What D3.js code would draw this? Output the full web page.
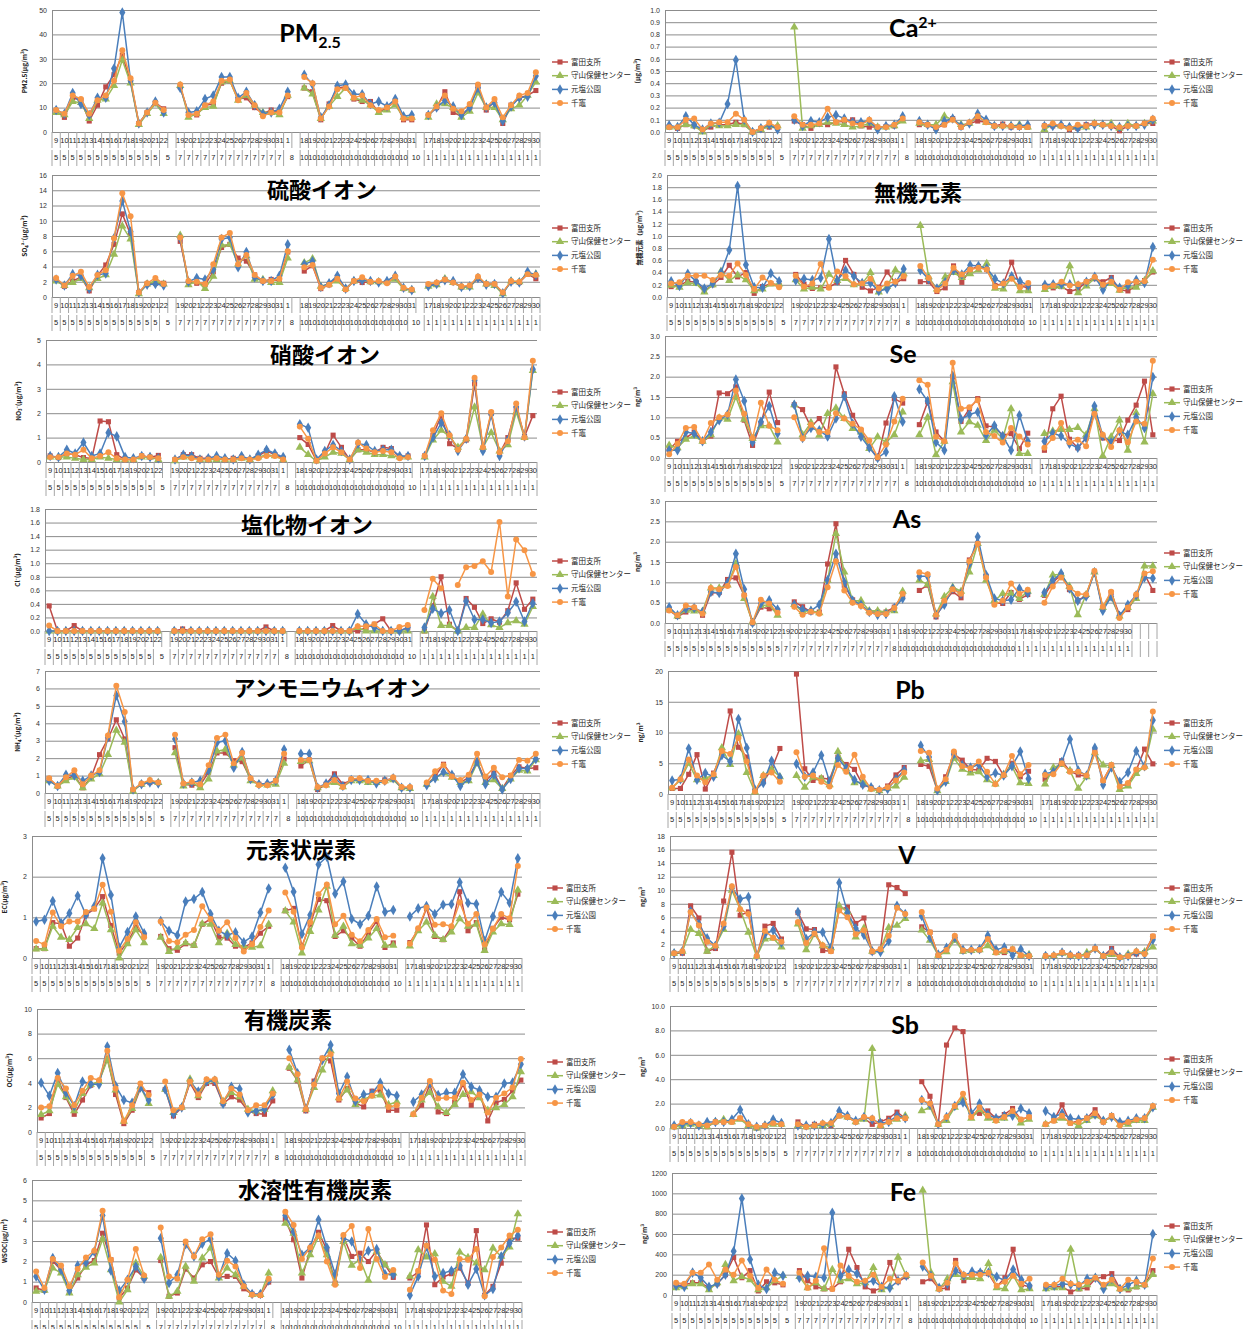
<!DOCTYPE html>
<html>
<head>
<meta charset="utf-8">
<script src="https://cdn.jsdelivr.net/npm/d3@7"></script>
<style>
  body { margin: 0; background: #fff; }
  svg { display: block; }
</style>
</head>
<body>
<svg id="chart" width="1248" height="1329"></svg>
<script>
// station series, in Excel drawing order
const seriesNames = ['富田支所', '守山保健センター', '元塩公園', '千竈'];
const seriesColors = ['#BE4B48', '#9BBB59', '#4A7EBB', '#F79646'];

// category axis (day / month), one blank category between the four sampling periods
const dayLabels = ['9','10','11','12','13','14','15','16','17','18','19','20','21','22','',
  '19','20','21','22','23','24','25','26','27','28','29','30','31','1','',
  '18','19','20','21','22','23','24','25','26','27','28','29','30','31','',
  '17','18','19','20','21','22','23','24','25','26','27','28','29','30'];
const monthLabels = ['5','5','5','5','5','5','5','5','5','5','5','5','5','5','',
  '7','7','7','7','7','7','7','7','7','7','7','7','7','8','',
  '10','10','10','10','10','10','10','10','10','10','10','10','10','10','',
  '1','1','1','1','1','1','1','1','1','1','1','1','1','1'];
// the As chart has its labels packed without the gaps
const asDayLabels = ['9','10','11','12','13','14','15','16','17','18','19','20','21','22',
  '19','20','21','22','23','24','25','26','27','28','29','30','31','1',
  '18','19','20','21','22','23','24','25','26','27','28','29','30','31',
  '17','18','19','20','21','22','23','24','25','26','27','28','29','30','','',''];
const asMonthLabels = ['5','5','5','5','5','5','5','5','5','5','5','5','5','5',
  '7','7','7','7','7','7','7','7','7','7','7','7','7','8',
  '10','10','10','10','10','10','10','10','10','10','10','10','10','10',
  '1','1','1','1','1','1','1','1','1','1','1','1','1','1','','',''];

// values: 56 per station (May 9-22, Jul 19-Aug 1, Oct 18-31, Jan 17-30)
const pm25 = [
  [8.5,6,14,13,4.5,11,18.5,23.5,31.5,20.5,3.5,8,12,9.5, 18.5,7.5,7,11,11.5,20,21,13.5,14,10,7.5,9,8,14.5, 18,16.5,5,11.5,18,18.5,13.5,12.5,12.5,8,10,12.5,5,5, 7,10,16.5,8,6.5,10,19,9,12.5,3.5,11,14,15,17],
  [8,7,12.5,12,5.5,13,13.5,19,29.5,20,3,7.5,11.5,7.5, 19,6,7.5,10,10.5,20.5,21,13,15,11,8,8,7,15, 18,15.5,5.5,10.5,14.5,18,14,13,11,8,9,11,6,6, 6,11.5,11.5,10,6,8.5,16,10,10,5,9.5,11,15,20.5],
  [9,7.5,16,11.5,7,14,14,26,49,21,3.5,8,12.5,8, 18,8,8.5,13.5,15,22.5,22.5,14,16.5,11,7.5,8,9.5,16.5, 23.5,19.5,6,11,19,19.5,15.5,15.5,11.5,12.5,10.5,13.5,6.5,7, 7,10,13,10.5,7,10,18,10,12,4.5,10.5,14,14.5,23],
  [9,7.5,15,13.5,7.5,13,15,21,33.5,22,3.5,8,12,9, 19.5,7,7.5,11,12.5,21,21.5,13,16,11,6.5,8,8,15, 22.5,20,5.5,10.5,17.5,18,14,15,11,9,10,12.5,5.5,5.5, 7,10.5,15,9.5,8.5,11.5,19.5,10,13.5,6,11,15,16,24.5]
];
const ca = [
  [.04,.03,.06,.05,.01,.04,.06,.06,.08,.06,0,.03,.04,.04, .09,.06,.03,.07,.06,.08,.09,.1,.05,.04,.04,.045,.05,.1, .06,.06,.03,.06,.11,.04,.07,.09,.08,.05,.065,.04,.04,.04, .05,.05,.05,.02,.03,.06,.07,.06,.05,.01,.05,.05,.07,.07],
  [.04,.04,.06,.05,0,.06,.05,.05,.06,.06,0,.02,.05,.05, .86,.03,.05,.06,.08,.07,.06,.04,.05,.07,.04,.04,.05,.09, .07,.06,.06,.13,.1,.06,.07,.13,.08,.05,.05,.05,.06,.04, .02,.06,.05,.04,.04,.04,.07,.06,.07,.03,.07,.05,.07,.09],
  [.055,.04,.13,.06,.02,.07,.075,.23,.59,.1,0,.03,.06,.02, .1,.05,.09,.08,.12,.14,.11,.08,.08,.09,.02,.05,.06,.13, .09,.06,.02,.09,.11,.05,.07,.15,.1,.05,.05,.05,.05,.06, .05,.05,.06,.04,.03,.05,.06,.06,.05,.04,.05,.05,.06,.1],
  [.04,.04,.1,.11,.02,.07,.08,.08,.15,.1,0,.03,.075,.04, .13,.06,.06,.07,.19,.08,.1,.07,.06,.1,.04,.04,.06,.11, .08,.06,.04,.06,.1,.04,.08,.13,.08,.05,.05,.05,.04,.04, .05,.07,.05,.03,.06,.05,.07,.06,.05,.04,.05,.05,.07,.11]
];
const so4 = [
  [2.3,1.4,2.1,2.6,.8,2.8,4.2,6.9,10.9,8.2,.6,1.7,1.8,1.8, 7.3,2,1.8,1.6,3.3,6.5,6.9,5.1,4.7,2.9,2.1,2.3,2.1,5.9, 3.4,4.1,1.1,1.6,2.6,1,2.1,1.9,2,2,1.9,2.5,1.1,.9, 1.6,1.7,2.3,1.9,1.3,1.4,2.4,1.7,1.7,.6,2,1.9,3,2.4],
  [2.1,1.5,1.9,2.4,1.2,2.4,2.9,5.6,9.3,7.6,.4,1.7,2.1,1.7, 8.1,1.6,2.1,1.1,2.7,6.8,6.9,4.3,5.4,2.3,2.3,1.9,1.9,5.1, 4.5,5,1.4,1.7,2.1,1.1,2.1,2.3,2,2,2,2.3,1.1,.9, 1.4,1.6,2.4,1.9,1.3,1.3,2.5,1.7,1.5,.4,2.1,2,3.1,3],
  [2.3,1.5,3,2.8,1.1,2.9,3.1,7.7,12.6,8.6,.6,1.6,1.7,1.5, 7.7,2,2.5,2.3,3.6,7.6,7.8,3.9,5.9,2.6,2.1,2.1,2.8,6.9, 4.3,4.7,1.3,1.8,2.8,1.1,2.1,2.2,2.1,1.9,2.1,2.8,1.2,.9, 1.4,1.7,2.2,2.1,1.3,1.4,2.5,1.6,1.7,.5,2,1.9,3.3,2.9],
  [2.5,1.5,2.8,3.3,1.3,2.9,3.5,7.7,13.6,10.6,.6,1.8,2.5,1.7, 7.8,2.1,2,1.7,4.3,7.8,8.4,4.3,5.5,2.9,2.1,2.1,2.4,6, 3.9,4.2,1.2,1.6,2.4,1,2.1,2.6,2,2.1,1.8,2.7,1.2,1, 1.7,1.9,2.3,1.9,1.4,1.5,2.7,1.7,1.7,.6,2.1,2,3,2.9]
];
const inorganic = [
  [.17,.19,.26,.24,.1,.2,.32,.52,.33,.4,.06,.17,.22,.19, .37,.21,.14,.15,.16,.24,.6,.37,.16,.1,.16,.41,.23,.3, .25,.25,.09,.15,.51,.24,.45,.5,.45,.19,.22,.57,.18,.15, .18,.15,.17,.09,.13,.25,.3,.25,.32,.12,.1,.18,.27,.41],
  [.19,.16,.23,.22,.08,.2,.42,.27,.36,.28,.1,.13,.21,.21, .28,.13,.16,.13,.37,.27,.3,.2,.22,.4,.08,.17,.44,.38, 1.17,.33,.13,.33,.4,.32,.38,.44,.55,.14,.13,.32,.1,.1, .12,.17,.17,.51,.07,.18,.31,.18,.22,.11,.17,.16,.27,.43],
  [.26,.18,.38,.26,.14,.22,.4,.77,1.82,.53,.16,.15,.39,.26, .27,.3,.28,.31,.95,.27,.44,.34,.23,.23,.1,.13,.23,.46, .44,.29,.14,.24,.44,.37,.52,.51,.47,.3,.22,.34,.26,.19, .2,.21,.21,.21,.19,.25,.33,.12,.28,.15,.19,.28,.23,.82],
  [.22,.24,.35,.35,.35,.28,.36,.35,.55,.36,.13,.32,.23,.16, .35,.17,.22,.54,.15,.42,.34,.21,.22,.3,.14,.22,.25,.34, .51,.31,.11,.22,.48,.37,.45,.48,.45,.17,.22,.3,.16,.23, .16,.19,.25,.19,.21,.25,.33,.2,.25,.12,.24,.25,.26,.61]
];
const no3 = [
  [.25,.18,.35,.3,.18,.14,1.68,1.65,.3,.1,.1,.25,.2,.27, .1,.3,.3,.15,.15,.15,.1,.15,.2,.1,.25,.45,.3,.15, 1,.72,.05,.35,1.1,.6,.1,.5,.5,.4,.6,.55,.2,.25, .25,1.1,1.9,.75,.55,.9,3.2,.55,2,.35,1,2.2,1.05,1.9],
  [.2,.2,.2,.15,.1,.1,.2,.15,.1,.1,.1,.2,.2,.1, .05,.2,.2,.1,.1,.1,.1,.1,.15,.1,.2,.3,.25,.1, .6,.3,.05,.2,.4,.35,.1,.5,.4,.3,.3,.25,.2,.2, .2,.9,1.3,1.05,.6,.95,2.25,.6,1.2,.45,.7,2.05,1,3.75],
  [.25,.2,.5,.35,.8,.25,.35,1.2,1.05,.2,.15,.25,.2,.15, .1,.3,.25,.1,.15,.25,.15,.1,.25,.1,.3,.5,.35,.2, 1.55,1.4,.1,.45,.7,.45,.1,.75,.7,.45,.5,.5,.25,.25, .25,1,1.6,1.1,.45,.95,3.35,.45,1.95,.25,.9,2.25,1.05,3.8],
  [.2,.2,.35,.3,.5,.15,.25,.4,.15,.1,.1,.25,.2,.15, .1,.2,.15,.1,.1,.15,.1,.1,.15,.1,.15,.25,.25,.1, 1.45,.95,.05,.35,.6,.4,.1,.8,.55,.4,.45,.4,.15,.2, .25,1.3,2,1.1,.5,.95,3.45,.6,2.05,.4,.85,2.4,1,4.15]
];
const se = [
  [.21,.41,.49,.64,.41,.54,1.6,1.58,1.75,.93,.31,.84,1.62,.87, 1.31,1.19,.76,.97,.6,2.24,1.58,1.05,.68,.27,0,.86,1.46,1.35, .82,1.38,.64,.41,1.99,.9,1.21,1.46,.79,.76,.56,.6,.23,.61, .19,1.21,1.52,.46,.25,.49,1.09,.49,.43,.43,.93,1.3,1.89,.57],
  [.31,.25,.46,.54,.41,.57,.98,.95,1.5,.95,.48,.79,.79,.39, 1.31,.57,.87,.56,1.09,1.23,.97,.72,.64,.23,.52,.39,.57,1.13, .57,1,.08,.41,1.87,.64,.89,.8,.43,.68,.48,1.21,.11,.11, .6,.66,.7,.7,.75,.57,1.21,.05,.52,.93,.19,1.11,.39,1.58],
  [.19,.19,.64,.6,.41,.64,.93,1.07,1.93,1.4,.39,.89,1.28,.6, 1.31,.49,.74,.68,.53,.97,1.52,.84,.52,.25,0,.15,1.52,.89, 1.69,1.4,.39,.19,2.02,.95,1.07,1.13,.56,.8,.54,.19,1.05,.41, .41,.61,.54,.35,.25,.49,1.28,.54,.39,.66,.57,1,.74,1.99],
  [.09,.35,.74,.76,.41,.86,1,1.07,1.66,1.09,.49,1.36,.79,.68, 1,.48,.82,.64,.64,1.1,.97,.84,.7,.43,.02,.33,.9,1.46, 1.91,1.8,.52,.41,2.34,1.21,1.25,1.42,.64,.54,.38,.74,.53,.33, .25,.49,.86,.39,.45,.29,1.09,.57,.27,.68,.39,.9,.84,2.39]
];
const cl = [
  [.37,0,0,.08,0,0,0,0,0,0,0,0,0,0, 0,.03,0,0,0,0,0,0,0,0,0,.06,0,0, 0,0,0,0,.08,0,0,0,.05,.1,.18,0,0,.05, 0,.37,.8,.1,0,.48,.35,.11,.18,.13,.3,.71,.32,.47],
  [0,0,0,0,0,0,0,0,0,0,0,0,0,0, 0,0,0,0,0,0,0,0,0,0,0,0,0,0, 0,0,0,0,0,0,0,.05,0,0,0,0,0,0, 0,.51,.08,.08,0,.05,.05,.25,.09,.05,.12,.15,.1,.36],
  [0,0,0,0,0,0,0,0,0,0,0,0,0,0, 0,0,0,0,0,0,0,0,0,0,0,0,0,0, 0,0,0,0,0,0,0,.25,.1,.05,0,0,0,.05, .05,.33,.26,.31,0,.44,.17,.17,.12,.14,.27,.43,.14,.41],
  [.08,0,0,0,0,0,0,0,0,0,0,0,0,0, 0,0,0,0,0,0,0,0,0,0,0,0,0,0, 0,0,0,0,0,0,0,.07,.07,.1,0,0,.06,.09, .31,.77,.63,null,.68,.94,.96,1.03,.87,1.61,.51,1.35,1.19,.84]
];
const as = [
  [.31,.16,.27,.37,.19,.74,.75,1.07,1.11,.68,0,.39,.35,.31, .52,.4,.27,.27,1.45,2.44,.93,.57,.45,.27,.27,.27,.39,.68, .8,.93,.15,.52,.77,.62,1.55,1.95,1.15,.5,.48,.75,.58,.7, .68,1,1.18,.82,.55,.68,1.27,.35,.75,.2,.33,.65,1.2,.8],
  [.34,.17,.31,.29,.29,.86,.86,.93,1.46,.6,.02,.43,.45,.19, .45,.28,.3,.25,1.05,2.2,1.25,.55,.55,.3,.3,.27,.3,.78, 1.05,.95,.22,.65,.88,.78,1.25,1.95,1.05,.55,.72,.72,.6,.78, .7,1.18,1.2,.9,.2,.7,1.25,.38,.62,.17,.38,.6,1.4,1.4],
  [.39,.19,.35,.37,.27,.76,.74,.99,1.7,.83,0,.48,.56,.33, .45,.33,.3,.45,1.05,1.7,1,.55,.45,.27,.2,.22,.37,.6, 1.15,1.15,.2,.45,.85,.72,1.45,2.12,1.18,.6,.55,.57,.85,.73, .75,1.05,1.22,.85,.55,.65,1.25,.3,.65,.18,.45,.68,1.12,1.1],
  [.31,.19,.43,.39,.23,.86,.83,.91,1.38,.68,.02,.57,.48,.25, .4,.2,.28,.23,.88,1.52,.8,.5,.42,.25,.22,.22,.37,.72, 1.25,1.2,.2,.55,.83,.72,1.52,1.95,1.12,.45,.55,.97,.72,.82, .5,.9,1.12,.87,.72,.7,1.28,.4,.77,.12,.38,.7,1.22,1.27]
];
const nh4 = [
  [.8,.4,.8,1,.3,.9,2.2,3.1,4.2,3.1,.2,.5,.6,.6, 2.6,.5,.45,.45,1.2,2.3,2.3,1.85,1.8,.8,.5,.5,.7,1.95, 1.55,1.9,.2,.5,1.1,.5,.75,.75,.7,.65,.75,.8,.3,.3, .5,.95,1.65,1,.6,.9,1.8,.7,1.15,.25,1,1.5,1.4,1.45],
  [.7,.4,.7,.9,.3,.8,1.1,2.2,3.6,2.9,.1,.5,.7,.6, 2.3,.4,.6,.3,.8,2.4,2.5,1.6,2,.7,.5,.45,.5,1.7, 1.8,1.85,.3,.45,.6,.35,.7,.7,.6,.6,.7,.75,.3,.25, .5,.85,1.15,.9,.6,.7,1.7,.6,.75,.25,.8,1.3,1.25,1.9],
  [.7,.4,1.05,1,.7,1,1.2,3.2,5.6,4.1,.2,.5,.6,.55, 3.1,.55,.6,.7,1.3,2.9,3,1.45,2.35,.8,.5,.55,.7,2.5, 2.25,2.25,.3,.55,.9,.4,.75,.75,.75,.55,.7,.85,.3,.3, .45,.85,1.2,1.05,.4,.8,1.8,.5,1.05,.2,.8,1.4,1.4,1.95],
  [.85,.4,.9,1.3,.5,1,1.3,3.3,6.15,4.65,.2,.55,.75,.6, 3.35,.55,.65,.5,1.6,3.15,3.35,1.7,2.3,.85,.45,.45,.7,2.25, 1.9,1.9,.35,.45,.75,.35,.8,.85,.7,.7,.65,.9,.35,.35, .6,1.25,1.6,.95,.75,1.05,2.25,.95,1.45,.9,1,1.9,1.85,2.25]
];
const pb = [
  [.9,.9,3.2,6.4,.8,3.4,6.7,13.5,7.6,6,.5,2,4,7.4, 19.5,4.1,2.2,2.6,2.4,6,4.8,4,1.5,1,.6,1.3,3.1,4.3, 4.8,4.5,.6,2.8,6.5,5.5,4,3.9,5.8,5.3,3,5,2.8,3.7, 2.4,3.6,5.4,3.7,3.1,2.9,7,2.2,4.7,1.3,1.6,3.9,7.3,4.9],
  [1,2.3,5,2.3,2.6,3,7.5,4.8,9.8,3.5,.3,3,4,2.8, 3,1.1,2.7,2.5,1.5,6.9,4.1,1.8,2,.8,.5,.9,1.3,2.7, 5.4,5.6,.5,2,5.8,4,3.4,3.6,2.3,1.6,3.2,4.5,1.8,1.7, 1.6,4.3,4.8,3.8,.9,2.8,6.7,4.7,4.6,.7,1.3,3.3,4.5,10.5],
  [2.2,2.4,7.4,2.3,3.4,2.8,6.3,5.3,12.2,7.5,.7,1.8,5.4,2.7, 4.9,2.8,3.5,6.3,2,5.8,4.2,2.3,1.5,1.1,.6,.8,2.4,3.9, 7.9,6,.6,2,6.5,4.7,4.3,4.8,2.8,3.4,3,4.5,6.9,2.5, 3.3,3.6,5.2,8.9,3.8,3,7.5,1.5,4.3,2,3.5,7,4.5,12],
  [1,2.4,5.6,3,1.9,3.2,7,6.5,9.1,5.3,.4,3,3.5,2, 6.8,2.8,3,2,1.2,4.7,3.6,6.4,2.8,.8,.7,1.1,2.2,3.5, 7,6.7,.9,2.4,6.9,4.5,4.2,5.3,3.6,1.6,3.1,6.2,3.2,4.7, 3.1,3.2,5,3.6,3.6,3,6.7,2.2,4.7,1.2,1.8,4,4.3,13.4]
];
const ec = [
  [.23,.23,.87,.84,.29,.49,1.06,1.21,1.51,.8,.12,.39,.76,.55, .53,.23,.19,.35,.31,.83,.96,.51,.49,.29,.26,.37,.61,.78, 1.16,1.22,.29,.83,1.44,1.41,.53,.67,.49,.29,.61,.9,.26,.37, .38,.69,1.22,.53,.45,.75,1.63,.67,.87,.2,.73,1,.94,1.57],
  [.22,.23,.78,.51,.45,.75,.84,.72,1.35,.69,0,.35,.69,.37, .51,.16,.26,.37,.31,.84,.83,.37,.61,.33,.29,.26,.3,.83, 1.16,.88,.12,.65,1.18,1.76,.56,.78,.35,.31,.49,.72,.31,.31, .29,.67,.88,.56,.45,.64,.96,.78,.83,.18,.64,.84,.82,1.67],
  [.9,.94,1.4,.86,1.1,1.53,1.06,1.27,2.45,1.55,.26,.64,1.02,.61, .91,.67,.56,1.39,1.45,1.62,1.08,.67,.56,.63,.39,.53,1.12,1.71, 2.22,1.63,.59,1.06,2.3,2.49,1.58,1.88,.96,.83,1.04,1.76,1.13,1.18, 1.02,1.22,1.28,1.08,1.31,1.32,1.86,1.35,1.33,.42,1.02,1.62,1.36,2.45],
  [.42,.33,1.12,.78,.9,.9,1.13,1.21,1.8,1.14,.18,.47,.88,.51, .9,.42,.39,.57,.69,1.27,.96,.67,.88,.49,.16,.34,.76,1.17, 1.61,1.14,.26,.88,1.57,1.81,.83,1.04,.57,.41,.69,.96,.51,.55, .35,.73,1.24,.82,.83,.78,1.37,.84,1.08,.33,.72,1.08,.98,2.26]
];
const v = [
  [.7,.7,7.7,5.9,1,1.4,8.4,15.6,6.3,6.8,.2,4.7,5.1,2.8, 6.7,4.3,4.2,1.1,1,7.2,7.5,5.1,5.9,.9,1.3,10.8,10.4,9.5, 4.6,3.8,.4,1.1,3.1,1,1.1,1.2,3,.8,.8,1.3,.4,.3, .3,.3,.8,.4,.4,.4,1.4,.3,1.4,.1,.4,.6,.8,3.2],
  [.7,1,4.2,3.6,1,1.8,4.2,10,7.2,3.8,.2,2.8,2.9,1.6, 5,1.2,3.5,1.8,1.5,7.7,6.8,3.1,4.4,1,1.2,4.5,4.8,5.8, 4.1,2.6,.4,.9,2.6,1,1.1,1.2,1.8,.8,1,1.2,.4,.5, .3,.3,.7,.4,.2,.8,1.3,.3,.5,.1,.6,.9,.9,1.6],
  [.7,1,6.9,5,2.9,1.8,4.7,10.3,8.7,9,.3,3.5,4.1,2.3, 6.8,2.8,3.8,3.8,1.5,11.1,6.7,4.4,3.4,1,.9,2.5,7.7,6.5, 6.2,3,.5,1.5,3,1.2,1.2,1.3,3.3,1.2,1.6,.4,1.3,.3, .3,.3,.8,.4,.3,.4,1.4,.3,1,.1,.3,.8,.6,2.7],
  [.7,1,6.8,4.8,2.4,1.8,5.1,10.6,7.2,6.5,.3,4,3,2.4, 5.3,2.2,3.6,1.9,1,7,6,3.5,4.1,1,1.3,3.3,7.4,6.5, 6.8,3.8,.4,1.2,3.3,1.1,1.2,1.2,2.8,.8,1.1,1.3,.4,.3, .3,.4,.8,.4,.3,.4,1.4,.3,.8,.1,.3,1,.6,3.2]
];
const oc = [
  [1.14,1.5,4.3,2.8,1.44,2.6,3.8,4.1,6,3.05,.68,1.77,3.54,3.2, 3.46,1.3,2,4,2.8,3.95,3.95,2.3,2.86,2.6,1.72,1.5,1.44,2.53, 5.18,4.17,1.72,4.14,6,5.78,2.6,3.54,2.37,2.04,3.32,3.4,1.77,1.77, 1.44,2.18,3.87,1.63,1.5,2.4,3.87,2.18,3.27,.9,2.37,2.64,3.35,4.22],
  [1.42,1.72,3.87,2.86,1.72,3.13,3.87,4.1,5.86,3.4,.87,1.9,3.68,2.3, 3.46,1.58,2,4.3,2.94,4.1,4.2,2.5,3.2,2.86,1.85,1.7,1.85,3.35, 5.26,4.22,1.85,3.6,5.04,6.6,2.78,3.4,2.23,2.67,2.94,3,2.23,2.45, 1.42,2.6,3.2,2.04,1.58,2.23,3.05,3.27,2.78,1.77,1.96,2.23,2.86,4.9],
  [4,2.94,4.8,3.2,2.12,4.1,3.9,3.87,6.95,3.76,2.6,2.37,3.62,2.6, 3.46,1.44,2,4.1,3.3,4.1,4.17,2.3,3.68,3.5,1.58,1.7,1.85,3, 6.68,4.77,1.9,3.95,5.86,7.08,3.13,4.5,2.5,3.05,3.13,4,3.13,2.94, 2.45,3.05,3.95,3,3.2,3.2,4.69,3.68,3.4,2.86,2.86,3.95,4.03,5.5],
  [2,2.1,4.4,3.54,2.18,3.35,4.4,4.2,6.6,3.54,.87,2.18,3.95,3, 4.1,1.77,2,4.1,3.05,4.28,4.28,2.5,3.54,3.05,1.77,2.18,2.18,3.13, 6,4.69,1.85,3.87,6,6.32,2.72,4.1,2.72,2.5,2.94,3.68,2.04,2.18, 1.44,2.78,4.14,2.72,2.78,2.78,4,2.6,3.05,1.58,2.78,3.13,3.62,5.94]
];
const sb = [
  [.1,.4,.4,.2,.1,.5,.5,.5,.8,.3,0,.2,.4,.3, .5,.1,.3,.3,.2,1,.9,.5,.8,.3,.5,.8,1.3,.8, 3.8,2.6,.3,6.8,8.2,7.9,1.1,1.2,1.4,.8,1.1,1.6,.7,.9, .3,.6,1.9,.4,.6,.8,1.5,.5,1,.4,.4,.7,.8,1.7],
  [.1,.2,.3,.2,.1,.5,.7,.5,.7,.2,0,.2,.3,.3, .2,.1,.2,.2,.3,1,.9,.5,.7,6.5,.2,.5,.7,1, 1.4,1.7,.3,.6,1.7,2.5,.8,1.5,.8,.6,.8,1.3,.4,.7, .3,.6,.8,.5,.2,.6,1,.6,.9,.3,.3,.6,.6,1.7],
  [.2,.3,.4,.2,.5,.5,.5,.7,1.5,.3,.1,.2,.7,.4, .2,.2,.2,.3,.4,1.4,1,.6,.9,.7,.4,.5,1,.8, 2.3,1.9,.3,.9,1.8,2.1,1.2,2,1.1,.8,1,1,1.6,1.2, 1.4,.9,1.2,.8,.7,.8,1.1,.6,.9,.5,.6,.8,.8,1.7],
  [.1,.5,.5,.3,.2,.5,.5,.5,.8,.3,.1,.2,.4,.3, .3,.1,.2,.4,.4,1,.9,.5,.9,.8,.2,.5,.8,.8, 2.3,2,.3,.9,1.8,2.8,.9,1.7,1,.6,.9,1.4,.7,.9, .3,.6,1,.4,.5,.8,1.2,.5,1,.2,.5,.7,.8,1.8]
];
const wsoc = [
  [.69,.57,2,1.58,.47,1.18,1.83,2.04,3.38,2.08,.2,.69,1.58,1.18, 2.04,.28,.44,1.62,1.18,1.83,1.99,1.23,1.26,1.26,.65,.39,.33,.98, 4.07,3.06,1.18,2.57,3.43,2.57,.93,3.22,2.24,2.4,1.99,2.52,1.83,1.21, 1.18,1.47,3.79,.85,1.23,1.39,1.67,.93,3.51,.33,.77,1.91,3.14,3.14],
  [.52,.57,1.67,1.42,.44,1.34,1.7,1.91,3.09,1.58,0,.6,1.91,1.26, 2.19,.28,.52,1.75,1.01,2.16,2.65,1.18,1.67,1.34,.77,.36,.36,1.42, 3.87,3.38,1.42,2.32,3.22,2.32,.93,2.97,1.8,2.08,1.06,2.48,1.83,1.42, 1.26,2.57,2.21,2.37,1.01,.77,2.45,2.19,1.91,1.58,2.65,2.24,2.7,4.33],
  [1.26,.6,2.16,1.58,.57,1.8,1.94,2.48,4.25,1.55,.56,1.09,1.75,1.14, 3.14,.93,1.34,2.84,2.24,2.86,3.1,1.26,2.4,2.03,.85,.39,.39,1.06, 4.25,3.46,2.32,2.68,4.04,2.68,1.37,3.14,2.97,2.08,2.52,2.6,1.37,1.34, .33,1.26,2.73,1.26,1.42,1.54,1.8,.85,1.62,.33,.64,2.24,2.89,3.27],
  [1.5,.69,2.11,1.8,.77,1.62,2.19,2.52,4.49,2.08,.23,1.09,2.61,1.31, 3.66,1.26,1.14,2.97,2.24,3.09,3.33,1.34,2.03,1.75,.77,.36,.33,1.14, 4.44,3.79,2.12,2.68,3.27,1.99,.85,3.3,3.74,1.67,3.59,2.12,1.23,1.58, .6,1.54,2.78,2.08,.56,.39,2.12,2.08,2.61,.28,2.21,2.68,3.27,3.55]
];
const fe = [
  [90,100,120,120,70,110,200,370,170,240,40,130,120,100, 240,140,80,60,60,130,450,270,80,40,70,320,130,180, 130,160,60,70,340,140,190,220,210,80,170,450,100,80, 80,80,80,30,60,70,160,180,210,60,50,80,100,240],
  [70,80,110,110,50,120,300,140,180,150,50,70,140,190, 180,70,120,60,250,140,160,110,120,270,50,80,370,190, 1030,220,60,160,200,170,170,160,310,70,60,190,50,60, 60,70,70,450,60,100,170,80,110,60,60,80,100,200],
  [90,80,220,170,80,110,200,430,950,350,100,60,220,190, 170,190,180,170,810,190,250,210,120,140,80,70,140,190, 280,190,70,110,240,190,230,220,220,180,140,250,150,90, 80,90,110,100,90,160,170,60,160,60,100,140,100,600],
  [120,110,220,220,300,150,250,200,340,190,70,250,150,110, 220,70,140,460,60,290,190,130,140,200,80,160,140,200, 320,190,60,120,310,200,200,200,220,90,130,190,110,160, 100,100,160,110,100,130,170,100,150,60,150,130,100,360]
];

// layout of the sixteen charts
const panels = [
  { data: pm25, x0: 52, x1: 540, y0: 10, y1: 132, max: 50, step: 10, dec: 0, title: [['PM', 0], ['2.5', 1]], latin: true, tx: 310, ty: 33, yTitle: 'PM2.5(μg/m³)', lx: 552, ly: 62 },
  { data: so4, x0: 52, x1: 540, y0: 175, y1: 297, max: 16, step: 2, dec: 0, title: [['硫酸イオン', 0]], tx: 322, ty: 190, yTitle: 'SO₄²⁻(μg/m³)', lx: 552, ly: 228 },
  { data: no3, x0: 46, x1: 537, y0: 340, y1: 462, max: 5, step: 1, dec: 0, title: [['硝酸イオン', 0]], tx: 325, ty: 355, yTitle: 'NO₃⁻(μg/m³)', lx: 552, ly: 392 },
  { data: cl, x0: 45, x1: 537, y0: 509, y1: 631, max: 1.8, step: 0.2, dec: 1, title: [['塩化物イオン', 0]], tx: 307, ty: 525, yTitle: 'Cl⁻(μg/m³)', lx: 552, ly: 561 },
  { data: nh4, x0: 45, x1: 540, y0: 671, y1: 793, max: 7, step: 1, dec: 0, title: [['アンモニウムイオン', 0]], tx: 332, ty: 688, yTitle: 'NH₄⁺(μg/m³)', lx: 552, ly: 723 },
  { data: ec, x0: 32, x1: 522, y0: 836, y1: 958, max: 3, step: 1, dec: 0, title: [['元素状炭素', 0]], tx: 301, ty: 850, yTitle: 'EC(μg/m³)', lx: 547, ly: 888 },
  { data: oc, x0: 37, x1: 525, y0: 1009, y1: 1132, max: 10, step: 2, dec: 0, title: [['有機炭素', 0]], tx: 288, ty: 1020, yTitle: 'OC(μg/m³)', lx: 547, ly: 1062 },
  { data: wsoc, x0: 32, x1: 522, y0: 1180, y1: 1302, max: 6, step: 1, dec: 0, title: [['水溶性有機炭素', 0]], tx: 315, ty: 1190, yTitle: 'WSOC(μg/m³)', lx: 547, ly: 1232 },
  { data: ca, x0: 665, x1: 1157, y0: 10, y1: 132, max: 1, step: 0.1, dec: 1, title: [['Ca', 0], ['2+', -1]], latin: true, tx: 913, ty: 28, yTitle: '(μg/m³)', lx: 1164, ly: 62 },
  { data: inorganic, x0: 667, x1: 1157, y0: 175, y1: 297, max: 2, step: 0.2, dec: 1, title: [['無機元素', 0]], tx: 918, ty: 193, yTitle: '無機元素（μg/m³）', lx: 1164, ly: 228 },
  { data: se, x0: 665, x1: 1157, y0: 336, y1: 458, max: 3, step: 0.5, dec: 1, title: [['Se', 0]], latin: true, tx: 903, ty: 354, yTitle: 'ng/m³', lx: 1164, ly: 389 },
  { data: as, x0: 665, x1: 1157, y0: 501, y1: 623, max: 3, step: 0.5, dec: 1, title: [['As', 0]], latin: true, tx: 907, ty: 519, yTitle: 'ng/m³', lx: 1164, ly: 553, packed: true },
  { data: pb, x0: 668, x1: 1157, y0: 671, y1: 794, max: 20, step: 5, dec: 0, title: [['Pb', 0]], latin: true, tx: 910, ty: 690, yTitle: 'ng/m³', lx: 1164, ly: 723 },
  { data: v, x0: 670, x1: 1157, y0: 836, y1: 958, max: 18, step: 2, dec: 0, title: [['V', 0]], latin: true, tx: 907, ty: 855, yTitle: 'ng/m³', lx: 1164, ly: 888 },
  { data: sb, x0: 670, x1: 1157, y0: 1006, y1: 1128, max: 10, step: 2, dec: 1, title: [['Sb', 0]], latin: true, tx: 905, ty: 1025, yTitle: 'ng/m³', lx: 1164, ly: 1059 },
  { data: fe, x0: 672, x1: 1157, y0: 1173, y1: 1295, max: 1200, step: 200, dec: 0, title: [['Fe', 0]], latin: true, tx: 903, ty: 1192, yTitle: 'ng/m³', lx: 1164, ly: 1226 }
];

const JP = '"Noto Sans CJK JP", "Noto Sans", sans-serif';
const NUM = '"Liberation Sans", Arial, sans-serif';
const symbols = [d3.symbolSquare, d3.symbolTriangle, d3.symbolDiamond, d3.symbolCircle];
const symbolSizes = [26, 30, 32, 28];

const svg = d3.select('#chart');

// 56 values -> 59 categories (a blank category after each period)
const catIndex = (k) => Math.floor(k / 14) * 15 + (k % 14);

function drawPanel(p) {
  const g = svg.append('g').attr('class', 'panel');
  const cats = d3.range(59);
  const x = d3.scaleBand().domain(cats).range([p.x0, p.x1]);
  const bw = x.bandwidth();
  const cx = (c) => x(c) + bw / 2;
  const y = d3.scaleLinear().domain([0, p.max]).range([p.y1, p.y0]);
  const ticks = d3.range(0, p.max + p.step / 2, p.step);

  // value axis + gridlines
  g.append('g')
    .attr('transform', `translate(${p.x0},0)`)
    .call(d3.axisLeft(y).tickValues(ticks).tickFormat(d3.format(p.dec ? '.1f' : 'd'))
      .tickSize(-(p.x1 - p.x0)).tickSizeOuter(0).tickPadding(5))
    .call((a) => a.select('.domain').attr('stroke', '#8c8c8c'))
    .call((a) => a.selectAll('.tick line').attr('stroke', '#8c8c8c').attr('stroke-width', 1))
    .call((a) => a.selectAll('.tick text').attr('font-size', 7).attr('fill', '#333').attr('font-family', NUM));

  g.append('text')
    .attr('transform', `translate(${p.x0 - 25},${(p.y0 + p.y1) / 2}) rotate(-90)`)
    .attr('text-anchor', 'middle')
    .attr('font-family', JP)
    .attr('font-size', 6.5)
    .attr('font-weight', 700)
    .attr('fill', '#222')
    .text(p.yTitle);

  // two-row category labels (day / month)
  const days = p.packed ? asDayLabels : dayLabels;
  const months = p.packed ? asMonthLabels : monthLabels;
  const xa = g.append('g').attr('font-family', NUM).attr('font-size', 7.5).attr('fill', '#222');
  const r1 = p.y1, r2 = p.y1 + 17, r3 = p.y1 + 34;

  xa.selectAll('line.day')
    .data(d3.range(60))
    .join('line')
    .attr('x1', (i) => p.x0 + i * bw).attr('x2', (i) => p.x0 + i * bw)
    .attr('y1', r1).attr('y2', r2 - 1)
    .attr('stroke', '#a6a6a6');
  xa.selectAll('text.day')
    .data(days)
    .join('text')
    .attr('x', (d, i) => cx(i))
    .attr('y', r1 + 11)
    .attr('text-anchor', 'middle')
    .text((d) => d);

  const cells = [];
  months.forEach((m, i) => {
    if (m === '' && !p.packed && cells.length) cells[cells.length - 1].e = i + 1;
    else cells.push({ m, s: i, e: i + 1 });
  });
  const edges = [0].concat(cells.map((c) => c.e));
  xa.selectAll('line.month')
    .data(edges)
    .join('line')
    .attr('x1', (i) => p.x0 + i * bw).attr('x2', (i) => p.x0 + i * bw)
    .attr('y1', r2 + 1).attr('y2', r3)
    .attr('stroke', '#a6a6a6');
  xa.selectAll('text.month')
    .data(cells)
    .join('text')
    .attr('x', (c) => p.x0 + ((c.s + c.e) / 2) * bw)
    .attr('y', r2 + 11)
    .attr('text-anchor', 'middle')
    .text((c) => c.m);

  // series
  const line = d3.line().defined((d) => d.v != null).x((d) => cx(d.c)).y((d) => y(d.v));
  p.data.forEach((vals, s) => {
    const pts = cats.map((c) => ({ c, v: null }));
    vals.forEach((val, k) => { pts[catIndex(k)].v = val; });
    const sg = g.append('g');
    sg.append('path')
      .datum(pts)
      .attr('d', line)
      .attr('fill', 'none')
      .attr('stroke', seriesColors[s])
      .attr('stroke-width', 1.5)
      .attr('stroke-linejoin', 'round');
    sg.selectAll('path.mark')
      .data(pts.filter((d) => d.v != null))
      .join('path')
      .attr('class', 'mark')
      .attr('transform', (d) => `translate(${cx(d.c)},${y(d.v)})`)
      .attr('d', d3.symbol(symbols[s], symbolSizes[s]))
      .attr('fill', seriesColors[s]);
  });

  // chart title
  const t = g.append('text')
    .attr('x', p.tx)
    .attr('y', p.ty)
    .attr('dy', '0.36em')
    .attr('text-anchor', 'middle')
    .attr('font-weight', 700)
    .attr('fill', '#000')
    .attr('font-family', p.latin ? 'Lato, "Open Sans", sans-serif' : JP)
    .attr('font-size', p.latin ? 25 : 22);
  p.title.forEach(([txt, shift]) => {
    t.append('tspan')
      .attr('dy', shift === 1 ? 6 : shift === -1 ? -9 : null)
      .attr('font-size', shift ? 16 : null)
      .text(txt);
  });

  // legend
  const lg = g.append('g').attr('font-family', JP).attr('font-size', 7.5).attr('fill', '#222');
  seriesNames.forEach((name, s) => {
    const ly = p.ly + s * 13.7;
    lg.append('line')
      .attr('x1', p.lx).attr('x2', p.lx + 16)
      .attr('y1', ly).attr('y2', ly)
      .attr('stroke', seriesColors[s]).attr('stroke-width', 1.5);
    lg.append('path')
      .attr('transform', `translate(${p.lx + 8},${ly})`)
      .attr('d', d3.symbol(symbols[s], symbolSizes[s]))
      .attr('fill', seriesColors[s]);
    lg.append('text')
      .attr('x', p.lx + 19)
      .attr('y', ly)
      .attr('dy', '0.35em')
      .text(name);
  });
}

panels.forEach(drawPanel);
</script>
</body>
</html>
